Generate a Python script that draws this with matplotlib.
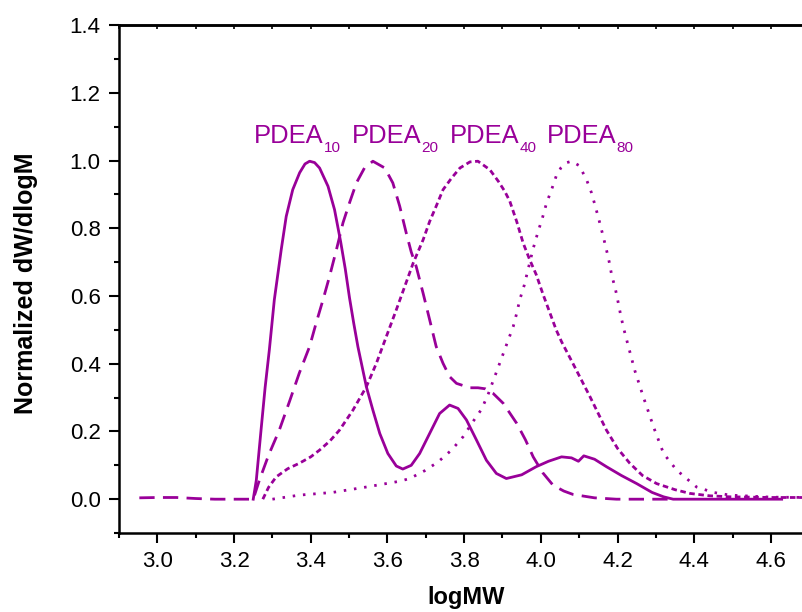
import matplotlib
matplotlib.use("Agg")
import matplotlib.pyplot as plt
from matplotlib.ticker import MultipleLocator

plt.rcParams['font.family'] = ['Liberation Sans', 'DejaVu Sans']

COLOR = '#990099'

# PDEA10 (solid)
x10 = [3.25, 3.258, 3.27, 3.281, 3.292, 3.305, 3.323, 3.336, 3.353, 3.371, 3.385, 3.397, 3.41, 3.423,
       3.445, 3.462, 3.478, 3.49, 3.501, 3.512, 3.523, 3.545, 3.562, 3.58, 3.601, 3.623, 3.64, 3.662,
       3.684, 3.71, 3.736, 3.762, 3.784, 3.806, 3.832, 3.858, 3.884, 3.91, 3.95, 3.988, 4.02, 4.054,
       4.08, 4.098, 4.112, 4.14, 4.171, 4.21, 4.25, 4.29, 4.32, 4.345, 4.45, 4.628]
y10 = [0.0, 0.056, 0.20, 0.33, 0.441, 0.589, 0.737, 0.835, 0.914, 0.964, 0.99, 0.998, 0.994, 0.978,
       0.924, 0.855, 0.76, 0.68, 0.595, 0.52, 0.45, 0.332, 0.263, 0.194, 0.135, 0.098, 0.089, 0.10,
       0.135, 0.194, 0.253, 0.278, 0.268, 0.234, 0.175, 0.115, 0.076, 0.061, 0.072, 0.096, 0.112, 0.125,
       0.122, 0.112, 0.128, 0.118, 0.096, 0.07, 0.046, 0.02, 0.007, 0.0, 0.0, 0.0]

# PDEA20 (long dash)
x20 = [2.953, 3.0, 3.05, 3.1, 3.15, 3.2, 3.25, 3.266, 3.29, 3.318, 3.345, 3.37, 3.397, 3.414, 3.432,
       3.449, 3.467, 3.484, 3.501, 3.519, 3.54, 3.562, 3.593, 3.614, 3.632, 3.649, 3.662, 3.675, 3.693,
       3.71, 3.727, 3.745, 3.762, 3.78, 3.815, 3.836, 3.855, 3.875, 3.902, 3.937, 3.96, 3.98, 4.005,
       4.032, 4.06, 4.084, 4.14, 4.197, 4.25, 4.34]
y20 = [0.004, 0.005, 0.005, 0.002, 0.0, 0.0, 0.0, 0.056, 0.13, 0.204, 0.29, 0.372, 0.451, 0.52, 0.589,
       0.658, 0.737, 0.816, 0.875, 0.934, 0.978, 0.998, 0.978, 0.934, 0.865, 0.786, 0.73, 0.687, 0.608,
       0.53, 0.451, 0.401, 0.362, 0.342, 0.329, 0.329, 0.326, 0.313, 0.283, 0.224, 0.175, 0.125, 0.078,
       0.041, 0.024, 0.014, 0.004, 0.0, 0.0, 0.0]

# PDEA40 (short dash)
x40 = [3.275, 3.29, 3.31, 3.34, 3.37, 3.40, 3.423, 3.45, 3.475, 3.51, 3.545, 3.571, 3.597, 3.623,
       3.645, 3.667, 3.693, 3.71, 3.727, 3.745, 3.767, 3.789, 3.815, 3.836, 3.867, 3.889, 3.906,
       3.919, 3.937, 3.954, 3.971, 3.988, 4.006, 4.024, 4.04, 4.054, 4.084, 4.128, 4.171, 4.20, 4.232,
       4.265, 4.302, 4.35, 4.389, 4.44, 4.493, 4.6, 4.70]
y40 = [0.0, 0.035, 0.066, 0.09, 0.106, 0.125, 0.145, 0.172, 0.204, 0.263, 0.332, 0.401, 0.48, 0.559,
       0.628, 0.697, 0.766, 0.82, 0.865, 0.914, 0.948, 0.978, 0.996, 0.998, 0.973, 0.939, 0.909,
       0.88, 0.82, 0.756, 0.707, 0.663, 0.604, 0.549, 0.5, 0.465, 0.40, 0.303, 0.204, 0.15, 0.106,
       0.07, 0.046, 0.028, 0.017, 0.01, 0.007, 0.005, 0.005]

# PDEA80 (dotted)
x80 = [3.30, 3.37, 3.457, 3.545, 3.632, 3.658, 3.697, 3.732, 3.767, 3.797, 3.823, 3.845, 3.862, 3.888,
       3.915, 3.928, 3.937, 3.945, 3.957, 3.967, 3.98, 3.993, 4.004, 4.015, 4.028, 4.04, 4.052, 4.065,
       4.08, 4.1, 4.119, 4.132, 4.142, 4.152, 4.161, 4.17, 4.178, 4.185, 4.194, 4.202, 4.209, 4.217,
       4.226, 4.245, 4.267, 4.295, 4.32, 4.354, 4.406, 4.45, 4.493, 4.6, 4.70]
y80 = [0.0, 0.012, 0.02, 0.036, 0.053, 0.061, 0.084, 0.11, 0.145, 0.184, 0.229, 0.265, 0.308, 0.387,
       0.47, 0.51, 0.549, 0.589, 0.633, 0.68, 0.74, 0.791, 0.83, 0.875, 0.914, 0.954, 0.978, 0.993,
       0.998, 0.985, 0.944, 0.905, 0.865, 0.823, 0.783, 0.742, 0.702, 0.66, 0.623, 0.579, 0.539, 0.5,
       0.461, 0.38, 0.303, 0.21, 0.135, 0.086, 0.036, 0.02, 0.012, 0.006, 0.005]

label_main = 'PDEA'
label_subs = ['10', '20', '40', '80']
label_x = [3.2507, 3.506, 3.762, 4.015]
label_y = 1.052

fig = plt.figure(figsize=(8.02, 6.12), dpi=100)
ax = fig.add_axes([0.1484, 0.129, 0.8516, 0.830])

lw = 2.0
ax.plot(x10, y10, color=COLOR, lw=lw, linestyle='-')
ax.plot(x20, y20, color=COLOR, lw=lw, linestyle=(0, (5.5, 3)))
ax.plot(x40, y40, color=COLOR, lw=lw, linestyle=(0, (2, 1.3)))
ax.plot(x80, y80, color=COLOR, lw=lw, linestyle=(0, (0.9, 2.8)))

for sub, lx in zip(label_subs, label_x):
    t = ax.text(lx, label_y, label_main, color=COLOR, fontsize=18.4,
                ha='left', va='baseline')
    ax.annotate(sub, xy=(1, 0), xycoords=t, xytext=(0.3, -2.9),
                textcoords='offset points', color=COLOR, fontsize=11,
                ha='left', va='baseline')

ax.set_xlim(2.9, 4.681)
ax.set_ylim(-0.1, 1.4)
ax.xaxis.set_major_locator(MultipleLocator(0.2))
ax.xaxis.set_minor_locator(MultipleLocator(0.1))
ax.yaxis.set_major_locator(MultipleLocator(0.2))
ax.yaxis.set_minor_locator(MultipleLocator(0.1))
ax.xaxis.set_major_formatter(plt.FuncFormatter(lambda v, p: f'{v:.1f}'))
ax.yaxis.set_major_formatter(plt.FuncFormatter(lambda v, p: f'{v:.1f}'))

ax.tick_params(which='major', direction='out', length=7.2, width=1.5, labelsize=16, pad=6)
ax.tick_params(which='minor', direction='out', length=3.6, width=1.5)
ax.spines['right'].set_visible(False)
for s in ['left', 'top', 'bottom']:
    ax.spines[s].set_linewidth(1.8)

sec = ax.secondary_xaxis('top')
sec.xaxis.set_major_locator(MultipleLocator(0.1))
sec.tick_params(direction='in', length=3, width=1.2, labeltop=False)
sec.spines['top'].set_linewidth(1.8)

fig.text(466 / 802, 3 / 612, 'logMW', fontsize=17, fontweight='bold',
         ha='center', va='bottom')
fig.text(26 / 802, 1 - 283 / 612, 'Normalized dW/dlogM', fontsize=18, fontweight='bold',
         rotation=90, ha='center', va='center')

fig.savefig('out.png', dpi=100)
